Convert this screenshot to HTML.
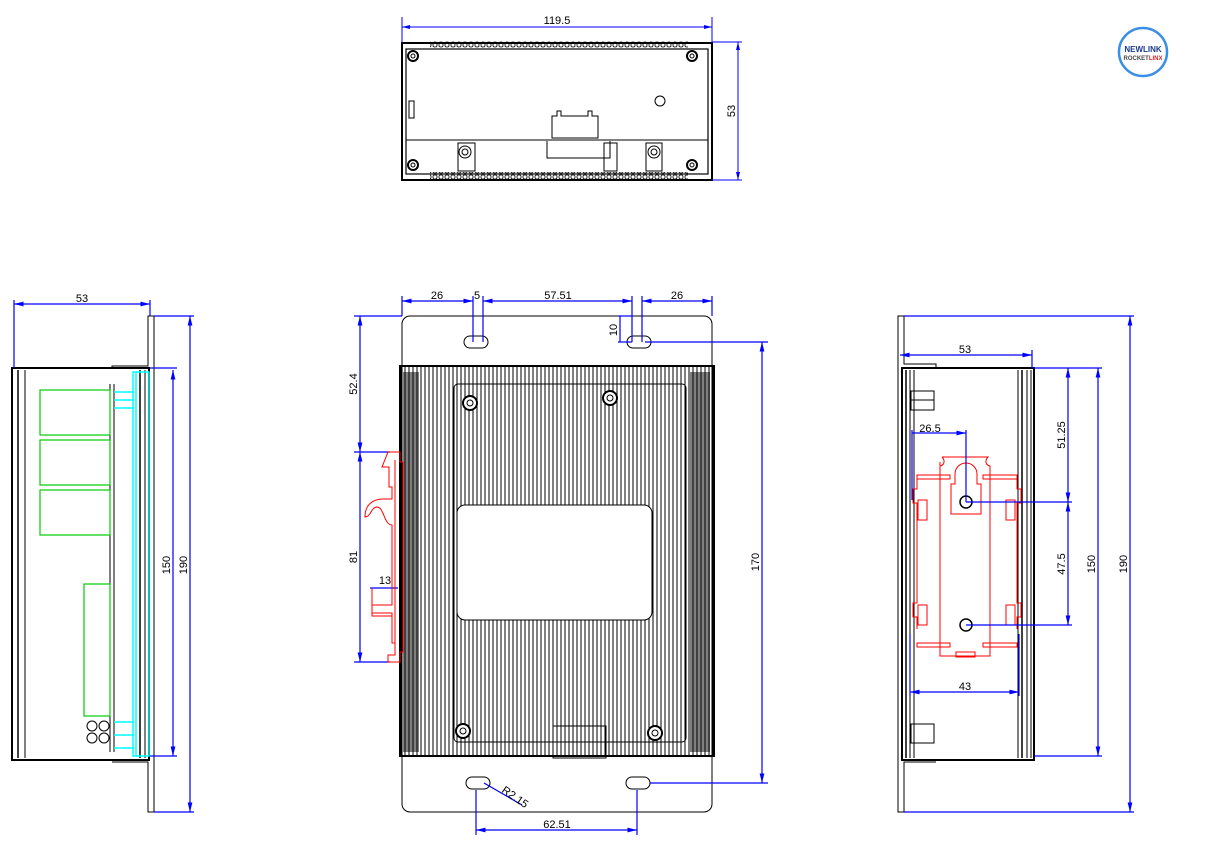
<!DOCTYPE html>
<html><head><meta charset="utf-8"><style>
html,body{margin:0;padding:0;background:#fff;}
svg{display:block;font-family:"Liberation Sans",sans-serif;}
</style></head><body>
<svg width="1211" height="845" viewBox="0 0 1211 845" xmlns="http://www.w3.org/2000/svg">
<defs>
<pattern id="fins" x="0" y="0" width="4" height="10" patternUnits="userSpaceOnUse">
<line x1="1" y1="0" x2="1" y2="10" stroke="#000" stroke-width="1"/>
</pattern>
<pattern id="teeth" x="0" y="0" width="6" height="6" patternUnits="userSpaceOnUse">
<rect x="1" y="1" width="4" height="4" rx="1.5" fill="none" stroke="#000" stroke-width="0.8"/>
</pattern>
<marker id="a" markerWidth="8" markerHeight="6" refX="8" refY="3" orient="auto-start-reverse"><path d="M0,1 L8,3 L0,5" fill="#00f"/></marker>
</defs>
<rect width="1211" height="845" fill="#fff"/>

<!-- ============ TOP VIEW ============ -->
<g fill="none" stroke="#000">
<rect x="430" y="41" width="258" height="7" fill="url(#teeth)" stroke="none"/>
<rect x="430" y="172" width="258" height="7" fill="url(#teeth)" stroke="none"/>
<rect x="402" y="43" width="310" height="137" stroke-width="2"/>
<rect x="406" y="49" width="302" height="125" stroke-width="1.2"/>
<line x1="406" y1="140" x2="708" y2="140"/>
<circle cx="413" cy="56" r="5" stroke-width="2"/><circle cx="692" cy="56" r="5" stroke-width="2"/>
<circle cx="413" cy="165" r="5" stroke-width="2"/><circle cx="692" cy="165" r="5" stroke-width="2"/>
<circle cx="413" cy="56" r="2"/><circle cx="692" cy="56" r="2"/><circle cx="413" cy="165" r="2"/><circle cx="692" cy="165" r="2"/>
<circle cx="660" cy="101" r="5"/>
<path d="M552,118 V116 h5 v-5 h4 v5 h27 v-5 h4 v5 h6 v22 h-46 z"/>
<path d="M547,141 v17 h63 v-17"/>
<rect x="458" y="143" width="17" height="28"/><circle cx="465" cy="152" r="6"/><circle cx="465" cy="152" r="3"/>
<rect x="646" y="143" width="16" height="28"/><circle cx="654" cy="152" r="6"/><circle cx="654" cy="152" r="3"/>
<rect x="604" y="143" width="13" height="28"/>
<rect x="409" y="101" width="5" height="17"/>
</g>
<g stroke="#00f" fill="none" stroke-width="1">
<line x1="402" y1="43" x2="402" y2="17"/><line x1="712" y1="43" x2="712" y2="17"/>
<line x1="402" y1="27" x2="712" y2="27" marker-start="url(#a)" marker-end="url(#a)"/>
<line x1="712" y1="42" x2="742" y2="42"/><line x1="712" y1="180" x2="742" y2="180"/>
<line x1="738" y1="42" x2="738" y2="180" marker-start="url(#a)" marker-end="url(#a)"/>
</g>
<text x="557" y="24" font-size="11" text-anchor="middle">119.5</text>
<text x="735" y="111" font-size="11" text-anchor="middle" transform="rotate(-90 735 111)">53</text>

<!-- ============ FRONT VIEW ============ -->
<g fill="none" stroke="#000">
<rect x="402" y="316" width="310" height="496" rx="8" stroke-width="1"/>
<rect x="400" y="366" width="314" height="390" fill="url(#fins)" stroke="none"/>
<rect x="400" y="366" width="314" height="390" stroke-width="2"/>
<rect x="403" y="372" width="16" height="380" fill="#000" opacity="0.5" stroke="none"/>
<rect x="690" y="372" width="20" height="380" fill="#000" opacity="0.5" stroke="none"/>
<rect x="454" y="384" width="232" height="358" rx="4"/>
<rect x="457" y="505" width="195" height="115" rx="8" fill="#fff"/>
<circle cx="470" cy="403" r="7" fill="#fff" stroke-width="2"/><circle cx="470" cy="403" r="3"/>
<circle cx="610" cy="398" r="7" fill="#fff" stroke-width="2"/><circle cx="610" cy="398" r="3"/>
<circle cx="463" cy="731" r="7" fill="#fff" stroke-width="2"/><circle cx="463" cy="731" r="3"/>
<circle cx="655" cy="733" r="7" fill="#fff" stroke-width="2"/><circle cx="655" cy="733" r="3"/>
<rect x="553" y="726" width="53" height="32"/>
<rect x="464" y="336" width="24" height="12" rx="6"/>
<rect x="627" y="336" width="24" height="12" rx="6"/>
<rect x="466" y="777" width="24" height="12" rx="6"/>
<rect x="626" y="777" width="24" height="12" rx="6"/>
</g>
<g stroke="#00f" fill="none" stroke-width="1.2">
<line x1="402" y1="316" x2="402" y2="296"/><line x1="473" y1="342" x2="473" y2="296"/><line x1="483" y1="342" x2="483" y2="296"/>
<line x1="632" y1="342" x2="632" y2="296"/><line x1="642" y1="342" x2="642" y2="296"/><line x1="712" y1="316" x2="712" y2="296"/>
<line x1="402" y1="301" x2="473" y2="301" marker-start="url(#a)" marker-end="url(#a)"/>
<line x1="483" y1="301" x2="632" y2="301" marker-start="url(#a)" marker-end="url(#a)"/>
<line x1="642" y1="301" x2="712" y2="301" marker-start="url(#a)" marker-end="url(#a)"/>
<line x1="618" y1="316" x2="632" y2="316"/><line x1="618" y1="342" x2="632" y2="342"/>
<line x1="620" y1="316" x2="620" y2="342"/>
<line x1="645" y1="342" x2="768" y2="342"/><line x1="650" y1="783" x2="768" y2="783"/>
<line x1="762" y1="342" x2="762" y2="783" marker-start="url(#a)" marker-end="url(#a)"/>
<line x1="354" y1="316" x2="402" y2="316"/><line x1="354" y1="452" x2="390" y2="452"/><line x1="354" y1="662" x2="390" y2="662"/>
<line x1="360" y1="316" x2="360" y2="452" marker-start="url(#a)" marker-end="url(#a)"/>
<line x1="360" y1="452" x2="360" y2="662" marker-start="url(#a)" marker-end="url(#a)"/>
<line x1="370" y1="588" x2="398" y2="588"/>
<line x1="476" y1="790" x2="476" y2="835"/><line x1="637" y1="790" x2="637" y2="835"/>
<line x1="476" y1="830" x2="637" y2="830" marker-start="url(#a)" marker-end="url(#a)"/>
<line x1="484" y1="783" x2="522" y2="805"/>
</g>
<g stroke="#f00" fill="none" stroke-width="1">
<path d="M388,452 h12 v10 h3 v190 h-3 v10 h-12 v-7 h7 v-12 h-3 v-30 h-20 v-8 h20 v-80 c-8,0 -8,-18 -15,-18 c-6,0 -6,10 -12,10 c0,-14 10,-18 18,-18 h9 v-12 h-3 v-20 h-7 z"/>
<path d="M372,588 v28 h20"/>
<path d="M395,460 v192"/>
</g>
<g font-size="11">
<text x="437" y="299" text-anchor="middle">26</text>
<text x="477" y="299" text-anchor="middle">5</text>
<text x="558" y="299" text-anchor="middle">57.51</text>
<text x="677" y="299" text-anchor="middle">26</text>
<text x="617" y="330" text-anchor="middle" transform="rotate(-90 617 330)">10</text>
<text x="357" y="384" text-anchor="middle" transform="rotate(-90 357 384)">52.4</text>
<text x="357" y="557" text-anchor="middle" transform="rotate(-90 357 557)">81</text>
<text x="385" y="584" text-anchor="middle">13</text>
<text x="759" y="562" text-anchor="middle" transform="rotate(-90 759 562)">170</text>
<text x="557" y="828" text-anchor="middle">62.51</text>
<text x="513" y="800" text-anchor="middle" transform="rotate(35 513 800)">R2.15</text>
</g>

<!-- ============ LEFT SIDE VIEW ============ -->
<g fill="none" stroke="#000">
<path d="M112,368 V366 H148 V316 H154 V812 H148 V762 H112" stroke-width="1"/>
<rect x="12" y="368" width="137" height="392" stroke-width="2"/>
<line x1="18" y1="370" x2="18" y2="758" stroke-width="1.5"/>
<line x1="25" y1="370" x2="25" y2="758"/>
<line x1="110" y1="384" x2="110" y2="752"/><line x1="114" y1="384" x2="114" y2="752"/>
<line x1="140" y1="370" x2="140" y2="758" stroke-width="1.5"/>
<line x1="145" y1="370" x2="145" y2="758"/>
<circle cx="92" cy="726" r="5"/><circle cx="104" cy="726" r="5"/>
<circle cx="92" cy="738" r="5"/><circle cx="104" cy="738" r="5"/>
</g>
<g fill="none" stroke="#0c0" stroke-width="1.2">
<rect x="40" y="390" width="70" height="45"/><rect x="40" y="440" width="70" height="45"/>
<rect x="40" y="490" width="70" height="45"/><rect x="84" y="584" width="26" height="132"/>
</g>
<g stroke="#0ff" fill="none" stroke-width="1.5">
<rect x="133" y="372" width="16" height="384"/>
<line x1="136" y1="372" x2="136" y2="756"/>
<line x1="114" y1="392" x2="134" y2="392"/><line x1="114" y1="400" x2="134" y2="400"/><line x1="114" y1="408" x2="134" y2="408"/>
<line x1="114" y1="722" x2="134" y2="722"/><line x1="114" y1="735" x2="134" y2="735"/><line x1="114" y1="748" x2="134" y2="748"/>
</g>
<g stroke="#00f" fill="none" stroke-width="1.2">
<line x1="14" y1="300" x2="14" y2="368"/><line x1="150" y1="300" x2="150" y2="316"/>
<line x1="14" y1="304" x2="150" y2="304" marker-start="url(#a)" marker-end="url(#a)"/>
<line x1="150" y1="368" x2="177" y2="368"/><line x1="150" y1="756" x2="177" y2="756"/>
<line x1="173" y1="370" x2="173" y2="756" marker-start="url(#a)" marker-end="url(#a)"/>
<line x1="154" y1="316" x2="194" y2="316"/><line x1="154" y1="812" x2="194" y2="812"/>
<line x1="190" y1="316" x2="190" y2="812" marker-start="url(#a)" marker-end="url(#a)"/>
</g>
<g font-size="11">
<text x="82" y="302" text-anchor="middle">53</text>
<text x="170" y="565" text-anchor="middle" transform="rotate(-90 170 565)">150</text>
<text x="187" y="565" text-anchor="middle" transform="rotate(-90 187 565)">190</text>
</g>

<!-- ============ RIGHT SIDE VIEW ============ -->
<g fill="none" stroke="#000">
<path d="M936,368 V364 H904 V316 H898 V812 H904 V762 H936" stroke-width="1"/>
<rect x="902" y="368" width="132" height="392" stroke-width="2"/>
<line x1="906" y1="370" x2="906" y2="758" stroke-width="1.5"/><line x1="910" y1="370" x2="910" y2="758"/><line x1="914" y1="370" x2="914" y2="758"/>
<line x1="1018" y1="370" x2="1018" y2="758"/><line x1="1022" y1="370" x2="1022" y2="758" stroke-width="1.5"/><line x1="1027" y1="370" x2="1027" y2="758"/><line x1="1031" y1="370" x2="1031" y2="758"/>
<rect x="911" y="391" width="23" height="19"/><line x1="911" y1="400" x2="934" y2="400"/>
<rect x="911" y="724" width="23" height="19"/>
<circle cx="966" cy="502" r="6" stroke-width="1.5"/><circle cx="966" cy="625" r="6" stroke-width="1.5"/>
</g>
<g stroke="#f00" fill="none" stroke-width="1">
<path d="M942,457 h46 c-3,3 -3,8 2,9 v113 M942,457 c3,3 3,8 -2,9 v-4 M940,466 v190 h50 v-77"/>
<path d="M990,585 v71"/>
<path d="M955,474 a11,11 0 0 1 22,0 v10 h4 v30 h-30 v-30 h4 z"/>
<path d="M917,475 h33 v4 h-33 z M983,475 h34 v4 h-34 z"/>
<path d="M917,479 v10 h-4 v14 h4 v100 h-4 v14 h4 v12 M1017,479 v10 h4 v14 h-4 v100 h4 v14 h-4 v12"/>
<path d="M917,643 h33 v4 h-33 z M983,643 h34 v4 h-34 z"/>
<rect x="956" y="652" width="19" height="5"/>
<rect x="918" y="500" width="9" height="20"/><rect x="1006" y="500" width="9" height="20"/>
<rect x="918" y="605" width="9" height="20"/><rect x="1006" y="605" width="9" height="20"/>
</g>
<g stroke="#00f" fill="none" stroke-width="1.2">
<line x1="900" y1="355" x2="1032" y2="355" marker-start="url(#a)" marker-end="url(#a)"/>
<line x1="1032" y1="350" x2="1032" y2="368"/>
<line x1="1034" y1="368" x2="1102" y2="368"/><line x1="1034" y1="756" x2="1102" y2="756"/>
<line x1="1098" y1="368" x2="1098" y2="756" marker-start="url(#a)" marker-end="url(#a)"/>
<line x1="904" y1="316" x2="1134" y2="316"/><line x1="904" y1="812" x2="1134" y2="812"/>
<line x1="1130" y1="316" x2="1130" y2="812" marker-start="url(#a)" marker-end="url(#a)"/>
<line x1="966" y1="502" x2="1072" y2="502"/><line x1="966" y1="625" x2="1072" y2="625"/>
<line x1="1068" y1="368" x2="1068" y2="502" marker-start="url(#a)" marker-end="url(#a)"/>
<line x1="1068" y1="502" x2="1068" y2="625" marker-start="url(#a)" marker-end="url(#a)"/>
<line x1="912" y1="433" x2="966" y2="433" marker-end="url(#a)"/>
<line x1="966" y1="430" x2="966" y2="502"/><line x1="912" y1="430" x2="912" y2="500"/>
<line x1="910" y1="634" x2="910" y2="696"/><line x1="1019" y1="634" x2="1019" y2="696"/>
<line x1="910" y1="692" x2="1019" y2="692" marker-start="url(#a)" marker-end="url(#a)"/>
</g>
<g font-size="11">
<text x="965" y="353" text-anchor="middle">53</text>
<text x="930" y="432" text-anchor="middle">26.5</text>
<text x="965" y="690" text-anchor="middle">43</text>
<text x="1065" y="435" text-anchor="middle" transform="rotate(-90 1065 435)">51.25</text>
<text x="1065" y="564" text-anchor="middle" transform="rotate(-90 1065 564)">47.5</text>
<text x="1095" y="564" text-anchor="middle" transform="rotate(-90 1095 564)">150</text>
<text x="1127" y="564" text-anchor="middle" transform="rotate(-90 1127 564)">190</text>
</g>

<!-- LOGO -->
<circle cx="1143" cy="52" r="24" fill="#fff" stroke="#3a8ee6" stroke-width="2.5"/>
<text x="1143" y="52" font-size="8" font-weight="bold" text-anchor="middle" fill="#1a3a8a">NEWLINK</text>
<text x="1143" y="60" font-size="6" font-weight="bold" text-anchor="middle" fill="#444">ROCKET<tspan fill="#d22">LINX</tspan></text>
</svg>
</body></html>
